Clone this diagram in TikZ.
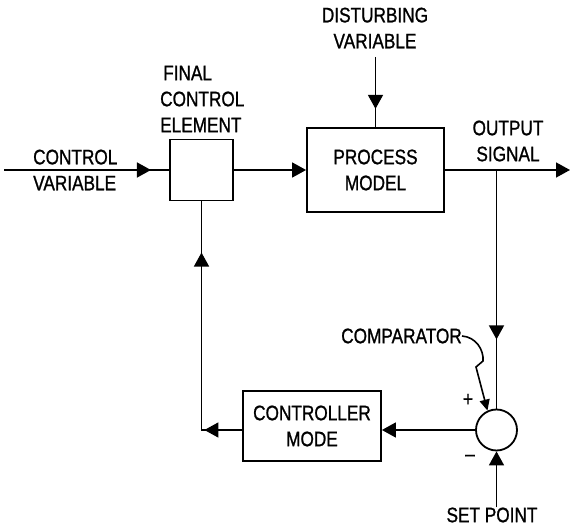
\documentclass[tikz,border=0pt]{standalone}
\usepackage{fontspec}
\setmainfont{Liberation Sans}[FakeStretch=0.82, FakeBold=1]
\usetikzlibrary{arrows.meta, positioning, decorations.markings, calc}

\begin{document}
\begin{tikzpicture}[
        % Work in pixel units, y pointing down
        x=1pt, y=-1pt,
        % Define styles for the nodes
        every node/.style={font=\fontsize{21}{26}\selectfont},
        block/.style={draw, line width=1.8pt, align=center, inner sep=0pt},
        label_text/.style={align=center, inner sep=0pt},
        sum_node/.style={draw, circle, line width=1.8pt, minimum size=41pt, inner sep=0pt},
        line/.style={line width=1.6pt},
        arrow/.style={line, -{Triangle[length=14pt, width=15pt]}},
        midarrow/.style={line, postaction={decorate},
            decoration={markings, mark=at position #1 with {\arrow{Triangle[length=14pt, width=15pt]}}}}
    ]
    \useasboundingbox (0,0) rectangle (571,529);

    % Blocks
    \node (fce) [block, minimum width=63pt, minimum height=61pt] at (201.5,170) {};
    \node (process) [block, minimum width=137pt, minimum height=84pt] at (375.5,170) {PROCESS\\MODEL};
    \node (comp) [sum_node] at (496.5,430) {};
    \node (ctrl) [block, minimum width=138pt, minimum height=70pt] at (312,426) {CONTROLLER\\MODE};

    % Texts
    \node (fce_text) [label_text, align=left, anchor=west] at (160,99) {\hspace*{3pt}FINAL\\CONTROL\\ELEMENT};
    \node (cv_text) [label_text, align=left, anchor=west] at (33,170) {CONTROL\\VARIABLE};
    \node (dist_text) [label_text] at (375,28) {DISTURBING\\VARIABLE};
    \node (out_text) [label_text] at (508,141) {OUTPUT\\SIGNAL};
    \node (comp_text) [label_text, anchor=east] at (462,336) {COMPARATOR};
    \node (sp_text) [label_text] at (492,515) {SET POINT};
    \node (plus_sign) [label_text] at (468,400) {+};
    \node (minus_sign) [label_text] at (470,458) {--};

    % Free ends
    \coordinate (cv_in) at (4,170);
    \coordinate (dist_in) at (375.5,57);
    \coordinate (out_end) at (570,170);
    \coordinate (branch) at (process.east -| comp.north);

    % Forward path
    \draw [midarrow=0.89] (cv_in) -- (fce.west);
    \draw [arrow] (fce.east) -- (process.west);
    \draw [midarrow=0.74] (dist_in) -- (process.north);
    \draw [arrow] (process.east) -- (out_end);

    % Measurement and set point
    \draw [midarrow=0.71] (branch) -- (comp.north);
    \draw [arrow] (sp_text.north -| comp.south) -- (comp.south);
    \draw [line, -{Triangle[length=11pt, width=10pt]}] (comp_text.east)
        .. controls (476,337) and (484,350) .. (483,361) -- (476,367) -- (comp.115);

    % Feedback path
    \draw [arrow] (comp.west) -- (ctrl.east |- comp.west);
    \draw [line, postaction={decorate},
        decoration={markings,
            mark=at position 0.14 with {\arrow{Triangle[length=14pt, width=15pt]}},
            mark=at position 0.81 with {\arrow{Triangle[length=14pt, width=15pt]}}}]
        (ctrl.west |- comp.west) -| (fce.south);

\end{tikzpicture}
\end{document}
